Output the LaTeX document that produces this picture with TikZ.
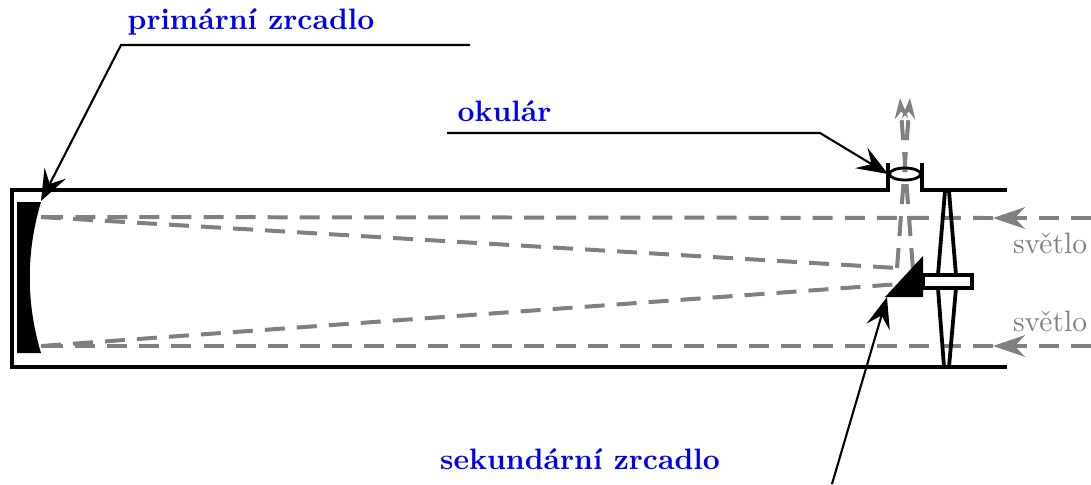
\documentclass[tikz,border=0pt]{standalone}
\usepackage{amsmath, amssymb}
\usetikzlibrary{arrows.meta, positioning, calc, shapes.geometric}
\definecolor{labelblue}{RGB}{0, 0, 240}
\definecolor{lightgray}{RGB}{128, 128, 128}
\tikzset{
  tube/.style={line width=1.35pt, line join=miter},
  ray/.style={lightgray, line width=1.42pt, dash pattern=on 7.1pt off 4.3pt},
  raytip/.style={-{Stealth[length=4mm, width=2.7mm, inset=1.3mm]}},
  exittip/.style={-{Stealth[length=2.6mm, width=1.7mm, inset=0.9mm]}},
  leader/.style={line width=0.75pt, -{Stealth[length=3.9mm, width=3mm, inset=1.5mm]}},
  partlabel/.style={text=labelblue, font=\fontsize{10.5}{12}\selectfont\bfseries, inner sep=0pt},
  lightlabel/.style={text=lightgray, font=\fontsize{10.5}{12}\selectfont, inner sep=0pt}
}

\begin{document}
\begin{tikzpicture}[x=0.0125cm, y=-0.0125cm]
  \useasboundingbox (0,0) rectangle (1091,484);

  \coordinate (mirrortop) at (41,217);
  \coordinate (mirrorbot) at (41,346);
  \coordinate (bounceone) at (897,268);
  \coordinate (bouncetwo) at (914,283);
  \coordinate (lightone) at (1091,218);
  \coordinate (lighttwo) at (1091,346);
  \coordinate (tipone) at (993,218);
  \coordinate (tiptwo) at (993,346);
  \coordinate (exitone) at (910,98);
  \coordinate (exittwo) at (900,98);

  \draw[ray, raytip] (lightone) -- (tipone);
  \draw[ray, raytip] (lighttwo) -- (tiptwo);
  \draw[ray] (tipone) -- (mirrortop);
  \draw[ray] (tiptwo) -- (mirrorbot);
  \draw[ray] (mirrortop) -- (bounceone);
  \draw[ray] (mirrorbot) -- (bouncetwo);
  \draw[ray, exittip] (bounceone) -- (exitone);
  \draw[ray, exittip, dash phase=6.05pt] (bouncetwo) -- (exittwo);

  \draw[tube] (1007,190) -- (922,190) -- (922,163);
  \draw[tube] (888,163) -- (888,190) -- (12,190) -- (12,367) -- (1007,367);
  \node[draw, ellipse, line width=1pt, minimum width=0.39cm, minimum height=0.15cm, inner sep=0pt] (ocular) at (905,174) {};

  \fill (17,202) -- (41,202) .. controls (26,252) and (26,303) .. (41,353) -- (17,353) -- cycle;
  \coordinate (primary) at (41,201);
  \fill (885,297) -- (923,256) -- (923,297) -- cycle;
  \coordinate (secondary) at (887,297);

  \draw[tube] (945,191) -- (938,275) (949,191) -- (956,275);
  \draw[tube] (938,288) -- (944,367) (956,288) -- (949,367);
  \draw[tube, fill=white] (923,275) rectangle (972,288);

  \node[partlabel] (primlabel) at (251,22) {primární zrcadlo};
  \node[partlabel] (oculabel) at (504.5,111) {okulár};
  \node[partlabel] (seclabel) at (580,459) {sekundární zrcadlo};
  \node[lightlabel] (lightup) at (1050,243) {světlo};
  \node[lightlabel] (lightdown) at (1050,321) {světlo};

  \coordinate (primend) at (470,45);
  \coordinate (ocuend) at (447,133);
  \coordinate (secend) at (832,484);

  \draw[leader] (primend) -- (121,45) -- (primary);
  \draw[leader] (ocuend) -- (820,133) -- (ocular.west);
  \draw[leader] (secend) -- (secondary);
\end{tikzpicture}
\end{document}
